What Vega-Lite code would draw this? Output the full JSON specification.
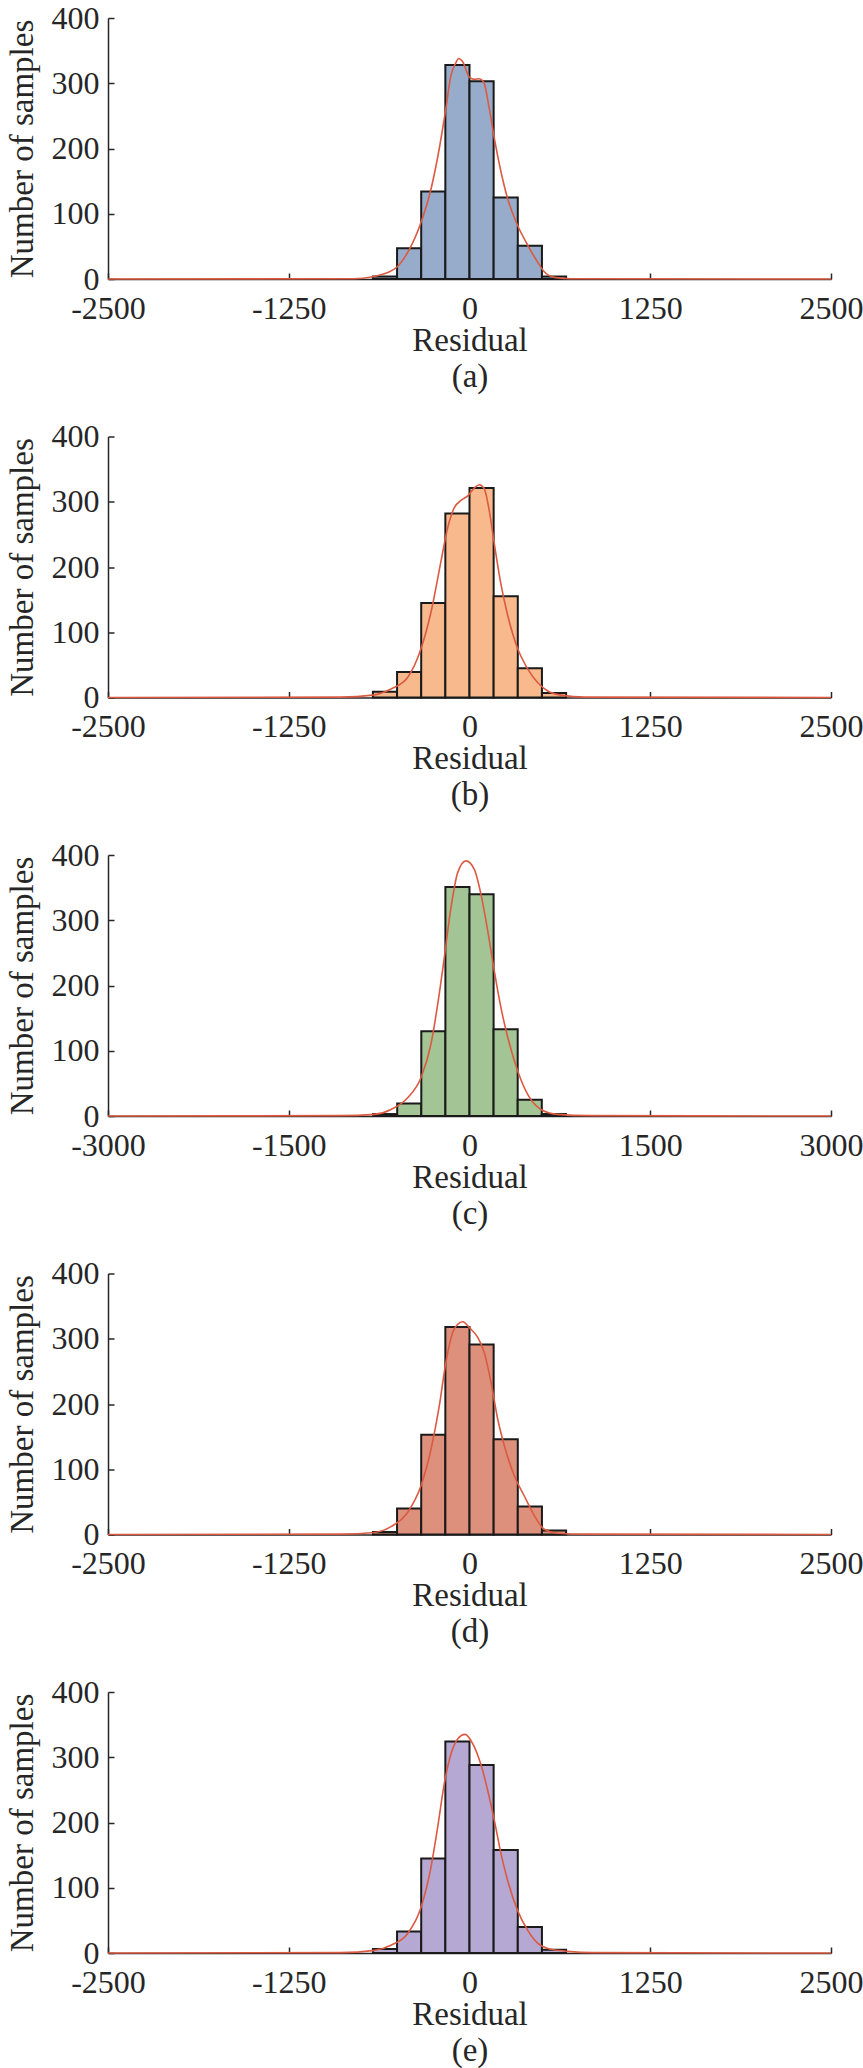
{
  "$schema": "https://vega.github.io/schema/vega-lite/v6.json",
  "padding": {"left": 5, "top": 2, "right": 20, "bottom": 5},
  "background": "white",
  "bounds": "flush",
  "spacing": 157.5,
  "datasets": {
    "bars": [
      {"panel": "a", "residual": -668, "residual_end": -501, "count": 4},
      {"panel": "a", "residual": -501, "residual_end": -334, "count": 47},
      {"panel": "a", "residual": -334, "residual_end": -167, "count": 134},
      {"panel": "a", "residual": -167, "residual_end": 0, "count": 328},
      {"panel": "a", "residual": 0, "residual_end": 167, "count": 303},
      {"panel": "a", "residual": 167, "residual_end": 334, "count": 125},
      {"panel": "a", "residual": 334, "residual_end": 501, "count": 51},
      {"panel": "a", "residual": 501, "residual_end": 668, "count": 4},
      {"panel": "b", "residual": -668, "residual_end": -501, "count": 9},
      {"panel": "b", "residual": -501, "residual_end": -334, "count": 39},
      {"panel": "b", "residual": -334, "residual_end": -167, "count": 145},
      {"panel": "b", "residual": -167, "residual_end": 0, "count": 282},
      {"panel": "b", "residual": 0, "residual_end": 167, "count": 321},
      {"panel": "b", "residual": 167, "residual_end": 334, "count": 155},
      {"panel": "b", "residual": 334, "residual_end": 501, "count": 45},
      {"panel": "b", "residual": 501, "residual_end": 668, "count": 7},
      {"panel": "c", "residual": -800, "residual_end": -600, "count": 3},
      {"panel": "c", "residual": -600, "residual_end": -400, "count": 19},
      {"panel": "c", "residual": -400, "residual_end": -200, "count": 130},
      {"panel": "c", "residual": -200, "residual_end": 0, "count": 351},
      {"panel": "c", "residual": 0, "residual_end": 200, "count": 340},
      {"panel": "c", "residual": 200, "residual_end": 400, "count": 133},
      {"panel": "c", "residual": 400, "residual_end": 600, "count": 25},
      {"panel": "c", "residual": 600, "residual_end": 800, "count": 3},
      {"panel": "d", "residual": -668, "residual_end": -501, "count": 4},
      {"panel": "d", "residual": -501, "residual_end": -334, "count": 40},
      {"panel": "d", "residual": -334, "residual_end": -167, "count": 153},
      {"panel": "d", "residual": -167, "residual_end": 0, "count": 318},
      {"panel": "d", "residual": 0, "residual_end": 167, "count": 291},
      {"panel": "d", "residual": 167, "residual_end": 334, "count": 146},
      {"panel": "d", "residual": 334, "residual_end": 501, "count": 43},
      {"panel": "d", "residual": 501, "residual_end": 668, "count": 6},
      {"panel": "e", "residual": -668, "residual_end": -501, "count": 6},
      {"panel": "e", "residual": -501, "residual_end": -334, "count": 33},
      {"panel": "e", "residual": -334, "residual_end": -167, "count": 145},
      {"panel": "e", "residual": -167, "residual_end": 0, "count": 324},
      {"panel": "e", "residual": 0, "residual_end": 167, "count": 288},
      {"panel": "e", "residual": 167, "residual_end": 334, "count": 158},
      {"panel": "e", "residual": 334, "residual_end": 501, "count": 40},
      {"panel": "e", "residual": 501, "residual_end": 668, "count": 5}
    ],
    "curves": [
      {"panel": "a", "residual": -2500, "count": 0},
      {"panel": "a", "residual": -800, "count": 0.3},
      {"panel": "a", "residual": -669, "count": 3.5},
      {"panel": "a", "residual": -566, "count": 10},
      {"panel": "a", "residual": -503, "count": 18},
      {"panel": "a", "residual": -427, "count": 41},
      {"panel": "a", "residual": -335, "count": 87},
      {"panel": "a", "residual": -266, "count": 138},
      {"panel": "a", "residual": -209, "count": 200},
      {"panel": "a", "residual": -167, "count": 256},
      {"panel": "a", "residual": -128, "count": 312},
      {"panel": "a", "residual": -93, "count": 332},
      {"panel": "a", "residual": -75, "count": 338},
      {"panel": "a", "residual": -47, "count": 333},
      {"panel": "a", "residual": 0, "count": 309},
      {"panel": "a", "residual": 33, "count": 306},
      {"panel": "a", "residual": 68, "count": 307},
      {"panel": "a", "residual": 98, "count": 302},
      {"panel": "a", "residual": 137, "count": 261},
      {"panel": "a", "residual": 172, "count": 215},
      {"panel": "a", "residual": 218, "count": 164},
      {"panel": "a", "residual": 264, "count": 123},
      {"panel": "a", "residual": 333, "count": 82},
      {"panel": "a", "residual": 402, "count": 52},
      {"panel": "a", "residual": 471, "count": 26},
      {"panel": "a", "residual": 517, "count": 11},
      {"panel": "a", "residual": 586, "count": 2.5},
      {"panel": "a", "residual": 700, "count": 0.3},
      {"panel": "a", "residual": 2500, "count": 0},
      {"panel": "b", "residual": -2500, "count": 0},
      {"panel": "b", "residual": -889, "count": 0.5},
      {"panel": "b", "residual": -669, "count": 3.6},
      {"panel": "b", "residual": -543, "count": 13},
      {"panel": "b", "residual": -427, "count": 31},
      {"panel": "b", "residual": -335, "count": 75},
      {"panel": "b", "residual": -266, "count": 131},
      {"panel": "b", "residual": -197, "count": 209},
      {"panel": "b", "residual": -151, "count": 260},
      {"panel": "b", "residual": -105, "count": 291},
      {"panel": "b", "residual": -59, "count": 302},
      {"panel": "b", "residual": -12, "count": 309},
      {"panel": "b", "residual": 33, "count": 321},
      {"panel": "b", "residual": 68, "count": 326},
      {"panel": "b", "residual": 102, "count": 320},
      {"panel": "b", "residual": 137, "count": 286},
      {"panel": "b", "residual": 172, "count": 235},
      {"panel": "b", "residual": 218, "count": 173},
      {"panel": "b", "residual": 264, "count": 126},
      {"panel": "b", "residual": 333, "count": 75},
      {"panel": "b", "residual": 402, "count": 44},
      {"panel": "b", "residual": 471, "count": 23},
      {"panel": "b", "residual": 541, "count": 10},
      {"panel": "b", "residual": 633, "count": 3.6},
      {"panel": "b", "residual": 800, "count": 0.5},
      {"panel": "b", "residual": 2500, "count": 0},
      {"panel": "c", "residual": -3000, "count": 0},
      {"panel": "c", "residual": -1066, "count": 0.5},
      {"panel": "c", "residual": -790, "count": 2.5},
      {"panel": "c", "residual": -651, "count": 10},
      {"panel": "c", "residual": -513, "count": 28},
      {"panel": "c", "residual": -402, "count": 59},
      {"panel": "c", "residual": -320, "count": 110},
      {"panel": "c", "residual": -264, "count": 171},
      {"panel": "c", "residual": -209, "count": 243},
      {"panel": "c", "residual": -154, "count": 319},
      {"panel": "c", "residual": -98, "count": 373},
      {"panel": "c", "residual": -29, "count": 391},
      {"panel": "c", "residual": 40, "count": 378},
      {"panel": "c", "residual": 95, "count": 340},
      {"panel": "c", "residual": 151, "count": 284},
      {"panel": "c", "residual": 206, "count": 222},
      {"panel": "c", "residual": 261, "count": 166},
      {"panel": "c", "residual": 318, "count": 120},
      {"panel": "c", "residual": 400, "count": 69},
      {"panel": "c", "residual": 483, "count": 33},
      {"panel": "c", "residual": 593, "count": 10},
      {"panel": "c", "residual": 732, "count": 2.5},
      {"panel": "c", "residual": 1000, "count": 0.5},
      {"panel": "c", "residual": 3000, "count": 0},
      {"panel": "d", "residual": -2500, "count": 0},
      {"panel": "d", "residual": -889, "count": 0.5},
      {"panel": "d", "residual": -658, "count": 3},
      {"panel": "d", "residual": -543, "count": 12},
      {"panel": "d", "residual": -427, "count": 34},
      {"panel": "d", "residual": -335, "count": 75},
      {"panel": "d", "residual": -266, "count": 131},
      {"panel": "d", "residual": -209, "count": 197},
      {"panel": "d", "residual": -163, "count": 264},
      {"panel": "d", "residual": -116, "count": 310},
      {"panel": "d", "residual": -82, "count": 322},
      {"panel": "d", "residual": -47, "count": 326},
      {"panel": "d", "residual": -1, "count": 317},
      {"panel": "d", "residual": 57, "count": 302},
      {"panel": "d", "residual": 102, "count": 279},
      {"panel": "d", "residual": 149, "count": 233},
      {"panel": "d", "residual": 195, "count": 177},
      {"panel": "d", "residual": 241, "count": 136},
      {"panel": "d", "residual": 310, "count": 90},
      {"panel": "d", "residual": 379, "count": 59},
      {"panel": "d", "residual": 448, "count": 29},
      {"panel": "d", "residual": 517, "count": 8},
      {"panel": "d", "residual": 610, "count": 2},
      {"panel": "d", "residual": 800, "count": 0.5},
      {"panel": "d", "residual": 2500, "count": 0},
      {"panel": "e", "residual": -2500, "count": 0},
      {"panel": "e", "residual": -889, "count": 0.5},
      {"panel": "e", "residual": -658, "count": 4},
      {"panel": "e", "residual": -543, "count": 12},
      {"panel": "e", "residual": -427, "count": 30},
      {"panel": "e", "residual": -335, "count": 70},
      {"panel": "e", "residual": -266, "count": 132},
      {"panel": "e", "residual": -220, "count": 193},
      {"panel": "e", "residual": -174, "count": 260},
      {"panel": "e", "residual": -128, "count": 305},
      {"panel": "e", "residual": -82, "count": 328},
      {"panel": "e", "residual": -31, "count": 335},
      {"panel": "e", "residual": 22, "count": 321},
      {"panel": "e", "residual": 80, "count": 288},
      {"panel": "e", "residual": 126, "count": 249},
      {"panel": "e", "residual": 172, "count": 203},
      {"panel": "e", "residual": 218, "count": 152},
      {"panel": "e", "residual": 264, "count": 111},
      {"panel": "e", "residual": 333, "count": 65},
      {"panel": "e", "residual": 402, "count": 35},
      {"panel": "e", "residual": 471, "count": 15},
      {"panel": "e", "residual": 564, "count": 5.6},
      {"panel": "e", "residual": 679, "count": 2.5},
      {"panel": "e", "residual": 850, "count": 0.5},
      {"panel": "e", "residual": 2500, "count": 0}
    ]
  },
  "vconcat": [
    {
      "width": 723, "height": 261,
      "encoding": {
        "x": {"field": "residual", "type": "quantitative", "scale": {"domain": [-2500, 2500], "nice": false},
              "axis": {"values": [-2500, -1250, 0, 1250, 2500], "labelExpr": "'' + datum.value", "title": ["Residual", "(a)"]}},
        "y": {"field": "count", "type": "quantitative", "scale": {"domain": [0, 400], "nice": false},
              "axis": {"values": [0, 100, 200, 300, 400], "title": "Number of samples"}}
      },
      "layer": [
        {"data": {"name": "bars"}, "transform": [{"filter": "datum.panel == 'a'"}],
         "mark": {"type": "rect", "fill": "#97ACCB"},
         "encoding": {"x2": {"field": "residual_end"}, "y2": {"datum": 0}}},
        {"data": {"name": "curves"}, "transform": [{"filter": "datum.panel == 'a'"}],
         "mark": {"type": "line"}}
      ]
    },
    {
      "width": 723, "height": 261,
      "encoding": {
        "x": {"field": "residual", "type": "quantitative", "scale": {"domain": [-2500, 2500], "nice": false},
              "axis": {"values": [-2500, -1250, 0, 1250, 2500], "labelExpr": "'' + datum.value", "title": ["Residual", "(b)"]}},
        "y": {"field": "count", "type": "quantitative", "scale": {"domain": [0, 400], "nice": false},
              "axis": {"values": [0, 100, 200, 300, 400], "title": "Number of samples"}}
      },
      "layer": [
        {"data": {"name": "bars"}, "transform": [{"filter": "datum.panel == 'b'"}],
         "mark": {"type": "rect", "fill": "#F8BA8D"},
         "encoding": {"x2": {"field": "residual_end"}, "y2": {"datum": 0}}},
        {"data": {"name": "curves"}, "transform": [{"filter": "datum.panel == 'b'"}],
         "mark": {"type": "line"}}
      ]
    },
    {
      "width": 723, "height": 261,
      "encoding": {
        "x": {"field": "residual", "type": "quantitative", "scale": {"domain": [-3000, 3000], "nice": false},
              "axis": {"values": [-3000, -1500, 0, 1500, 3000], "labelExpr": "'' + datum.value", "title": ["Residual", "(c)"]}},
        "y": {"field": "count", "type": "quantitative", "scale": {"domain": [0, 400], "nice": false},
              "axis": {"values": [0, 100, 200, 300, 400], "title": "Number of samples"}}
      },
      "layer": [
        {"data": {"name": "bars"}, "transform": [{"filter": "datum.panel == 'c'"}],
         "mark": {"type": "rect", "fill": "#A3C494"},
         "encoding": {"x2": {"field": "residual_end"}, "y2": {"datum": 0}}},
        {"data": {"name": "curves"}, "transform": [{"filter": "datum.panel == 'c'"}],
         "mark": {"type": "line"}}
      ]
    },
    {
      "width": 723, "height": 261,
      "encoding": {
        "x": {"field": "residual", "type": "quantitative", "scale": {"domain": [-2500, 2500], "nice": false},
              "axis": {"values": [-2500, -1250, 0, 1250, 2500], "labelExpr": "'' + datum.value", "title": ["Residual", "(d)"]}},
        "y": {"field": "count", "type": "quantitative", "scale": {"domain": [0, 400], "nice": false},
              "axis": {"values": [0, 100, 200, 300, 400], "title": "Number of samples"}}
      },
      "layer": [
        {"data": {"name": "bars"}, "transform": [{"filter": "datum.panel == 'd'"}],
         "mark": {"type": "rect", "fill": "#DD917D"},
         "encoding": {"x2": {"field": "residual_end"}, "y2": {"datum": 0}}},
        {"data": {"name": "curves"}, "transform": [{"filter": "datum.panel == 'd'"}],
         "mark": {"type": "line"}}
      ]
    },
    {
      "width": 723, "height": 261,
      "encoding": {
        "x": {"field": "residual", "type": "quantitative", "scale": {"domain": [-2500, 2500], "nice": false},
              "axis": {"values": [-2500, -1250, 0, 1250, 2500], "labelExpr": "'' + datum.value", "title": ["Residual", "(e)"]}},
        "y": {"field": "count", "type": "quantitative", "scale": {"domain": [0, 400], "nice": false},
              "axis": {"values": [0, 100, 200, 300, 400], "title": "Number of samples"}}
      },
      "layer": [
        {"data": {"name": "bars"}, "transform": [{"filter": "datum.panel == 'e'"}],
         "mark": {"type": "rect", "fill": "#B5A8D3"},
         "encoding": {"x2": {"field": "residual_end"}, "y2": {"datum": 0}}},
        {"data": {"name": "curves"}, "transform": [{"filter": "datum.panel == 'e'"}],
         "mark": {"type": "line"}}
      ]
    }
  ],
  "config": {
    "font": "Liberation Serif",
    "view": {"stroke": null},
    "axis": {
      "grid": false,
      "labelFont": "Liberation Serif", "labelFontSize": 32, "labelColor": "#262626",
      "titleFont": "Liberation Serif", "titleFontSize": 33, "titleFontWeight": "normal", "titleColor": "#262626",
      "domainColor": "#262626", "domainWidth": 1.5,
      "tickColor": "#262626", "tickWidth": 1.5, "tickSize": -6,
      "labelOverlap": false, "labelFlush": false, "labelBound": false
    },
    "axisX": {"labelPadding": 20, "titlePadding": 0, "titleLineHeight": 36},
    "axisY": {"labelPadding": 15, "titlePadding": 12},
    "rect": {"stroke": "#1a1a1a", "strokeWidth": 2},
    "line": {"color": "#DB5A41", "strokeWidth": 1.6, "interpolate": "monotone"}
  }
}
